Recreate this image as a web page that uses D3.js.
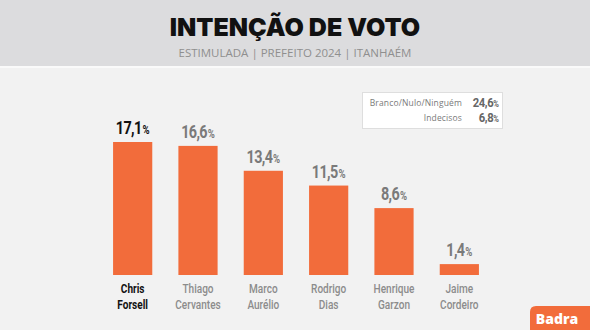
<!DOCTYPE html>
<html>
<head>
<meta charset="utf-8">
<script src="https://cdn.jsdelivr.net/npm/d3@7"></script>
<style>
  html, body { margin: 0; padding: 0; background: #f2f2f2; }
  svg { display: block; }
</style>
</head>
<body>
<div id="chart"></div>
<script>
// Poll data: stimulated vote intention, Itanhaém mayor 2024
const candidates = ["Chris Forsell", "Thiago Cervantes", "Marco Aurélio", "Rodrigo Dias", "Henrique Garzon", "Jaime Cordeiro"];
const nameLines = [["Chris", "Forsell"], ["Thiago", "Cervantes"], ["Marco", "Aurélio"], ["Rodrigo", "Dias"], ["Henrique", "Garzon"], ["Jaime", "Cordeiro"]];
const values = [17.1, 16.6, 13.4, 11.5, 8.6, 1.4];
const otherLabels = ["Branco/Nulo/Ninguém", "Indecisos"];
const otherValues = [24.6, 6.8];

const W = 590, H = 330;
const orange = "#f26c3b";
const narrow = "Roboto, 'Liberation Sans', sans-serif";
const fmt = v => v.toFixed(1).replace(".", ",");

const svg = d3.select("#chart").append("svg").attr("width", W).attr("height", H);

// Background: grey header band, thin white rule, light body
svg.append("rect").attr("width", W).attr("height", H).attr("fill", "#f2f2f2");
svg.append("rect").attr("width", W).attr("height", 66).attr("fill", "#dcdcde");
svg.append("rect").attr("y", 66).attr("width", W).attr("height", 2).attr("fill", "#fafafa");

svg.append("text")
  .attr("x", 295).attr("y", 36)
  .attr("text-anchor", "middle")
  .attr("font-family", "Inter, 'Open Sans', sans-serif")
  .attr("font-weight", 900)
  .attr("font-size", 25)
  .attr("fill", "#111")
  .text("INTENÇÃO DE VOTO");

svg.append("text")
  .attr("x", 295).attr("y", 57)
  .attr("text-anchor", "middle")
  .attr("font-family", "'Open Sans', sans-serif")
  .attr("font-size", 11.5)
  .attr("fill", "#8f8f8f")
  .text("ESTIMULADA | PREFEITO 2024 | ITANHAÉM");

// Scales
const x = d3.scaleBand().domain(candidates).range([100, 492]).paddingInner(0.4).paddingOuter(0.2);
const y = d3.scaleLinear().domain([0, 17.1]).range([275, 142]);
const cx = d => x(d) + x.bandwidth() / 2;

const g = svg.append("g");

g.selectAll("rect.bar")
  .data(candidates)
  .join("rect")
  .attr("class", "bar")
  .attr("x", d => x(d))
  .attr("width", x.bandwidth())
  .attr("y", (d, i) => y(values[i]))
  .attr("height", (d, i) => y(0) - y(values[i]))
  .attr("fill", orange);

// Value labels (condensed by a horizontal squeeze)
const vl = g.selectAll("text.val")
  .data(candidates)
  .join("text")
  .attr("class", "val")
  .attr("transform", (d, i) => `translate(${cx(d)},${y(values[i]) - 8}) scale(0.8,1)`)
  .attr("text-anchor", "middle")
  .attr("font-family", narrow)
  .attr("font-weight", 700)
  .attr("fill", (d, i) => i === 0 ? "#111" : "#7a7a7a");
vl.append("tspan").attr("font-size", 18).attr("letter-spacing", -0.8).text((d, i) => fmt(values[i]));
vl.append("tspan").attr("font-size", 12).attr("dx", 1).text("%");

// Candidate names (two lines)
const nl = g.selectAll("text.name")
  .data(candidates)
  .join("text")
  .attr("class", "name")
  .attr("transform", d => `translate(${cx(d)},293) scale(0.74,1)`)
  .attr("text-anchor", "middle")
  .attr("font-family", narrow)
  .attr("font-weight", (d, i) => i === 0 ? 700 : 500)
  .attr("font-size", 13.6)
  .attr("fill", (d, i) => i === 0 ? "#111" : "#8c8c8c");
nl.selectAll("tspan")
  .data((d, i) => nameLines[i])
  .join("tspan")
  .attr("x", 0)
  .attr("dy", (d, j) => j === 0 ? 0 : 16)
  .text(d => d);

// Box with blank/null and undecided
const box = svg.append("g");
box.append("rect")
  .attr("x", 362.5).attr("y", 92.5).attr("width", 140).attr("height", 36)
  .attr("fill", "#ffffff").attr("stroke", "#dedede");
otherLabels.forEach((lab, i) => {
  const yy = 106 + i * 15;
  box.append("text")
    .attr("x", 462).attr("y", yy)
    .attr("text-anchor", "end")
    .attr("font-family", "'Open Sans', sans-serif")
    .attr("font-size", 8.5)
    .attr("letter-spacing", 0.15)
    .attr("fill", "#7a7a7a")
    .text(lab);
  const t = box.append("text")
    .attr("transform", `translate(499,${yy + 1}) scale(0.9,1)`)
    .attr("text-anchor", "end")
    .attr("font-family", narrow)
    .attr("font-weight", 700)
    .attr("fill", "#666");
  t.append("tspan").attr("font-size", 12.5).attr("letter-spacing", -0.4).text(fmt(otherValues[i]));
  t.append("tspan").attr("font-size", 8.5).text("%");
});

// Brand tag, bottom right
svg.append("path")
  .attr("d", "M530,330 L530,312 Q530,306 536,306 L590,306 L590,330 Z")
  .attr("fill", orange);
svg.append("text")
  .attr("x", 557).attr("y", 324)
  .attr("text-anchor", "middle")
  .attr("font-family", "'Open Sans', sans-serif")
  .attr("font-weight", 800)
  .attr("font-size", 14)
  .attr("fill", "#fff")
  .text("Badra");
</script>
</body>
</html>
